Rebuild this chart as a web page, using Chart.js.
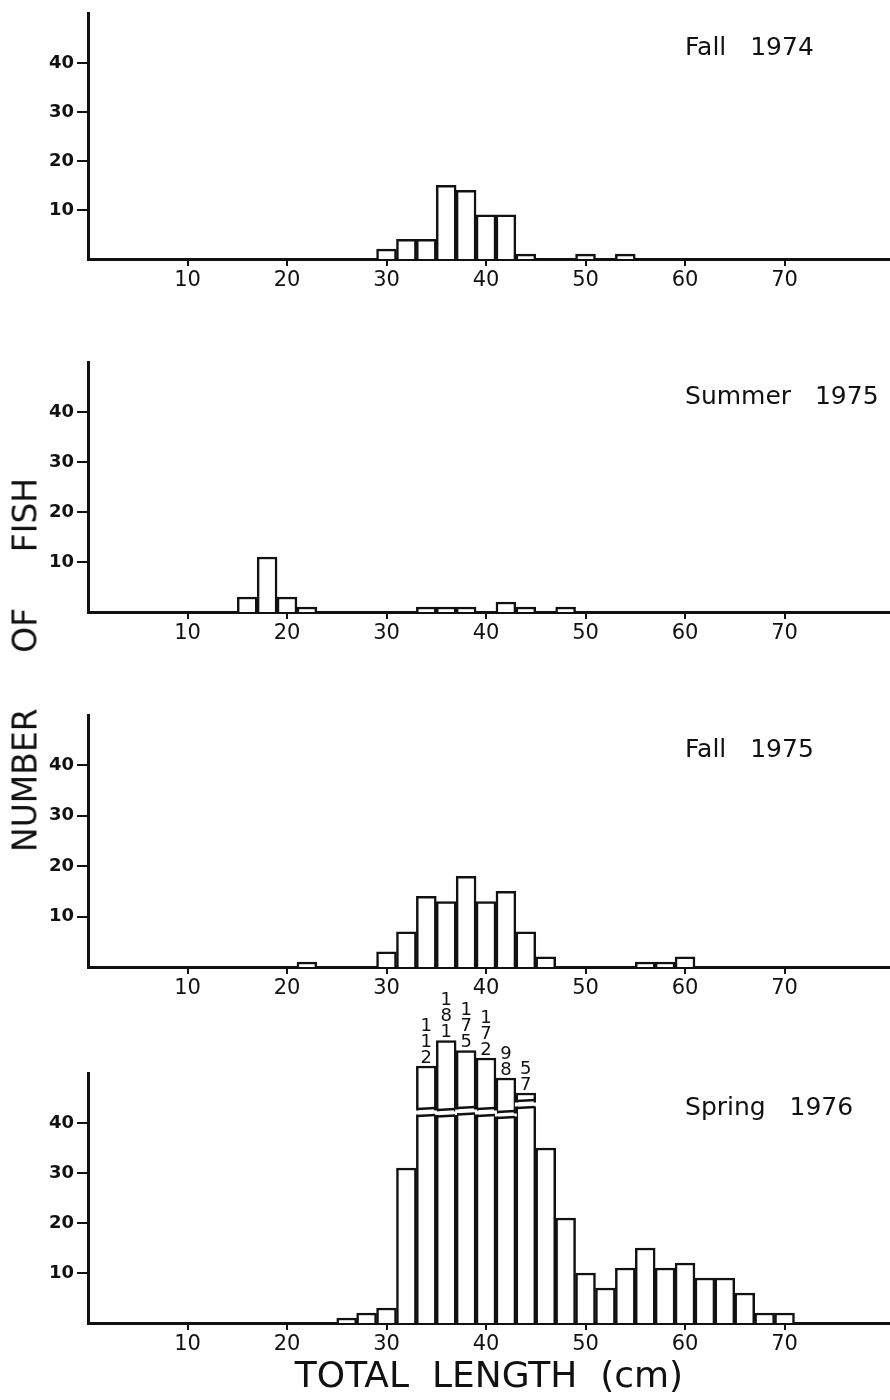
<!DOCTYPE html>
<html>
<head>
<meta charset="utf-8">
<script src="https://cdn.jsdelivr.net/npm/chart.js@4.4.0/dist/chart.umd.min.js"></script>
<style>
body { margin: 0; background: #fff; }
#page { position: relative; width: 890px; height: 1400px; overflow: hidden; background: #fff; }
canvas { position: absolute; left: 0; }
#ylab { position: absolute; left: 25px; top: 665px; transform: translate(-50%, -50%) rotate(-90deg);
        font: 33px "DejaVu Sans"; word-spacing: 45px; white-space: nowrap; color: #111; }
</style>
</head>
<body>
<div id="page">
  <canvas id="c1" width="890" height="300" style="top:0px"></canvas>
  <canvas id="c2" width="890" height="320" style="top:330px"></canvas>
  <canvas id="c3" width="890" height="330" style="top:680px"></canvas>
  <canvas id="c4" width="890" height="415" style="top:985px"></canvas>
  <div id="ylab">NUMBER OF FISH</div>
</div>
<script>
// total length classes (centre of each 2 cm class) and number of fish
var fall74Len = [30, 32, 34, 36, 38, 40, 42, 44, 50, 54];
var fall74Num = [2, 4, 4, 15, 14, 9, 9, 1, 1, 1];

var summer75Len = [16, 18, 20, 22, 34, 36, 38, 42, 44, 48];
var summer75Num = [3, 11, 3, 1, 1, 1, 1, 2, 1, 1];

var fall75Len = [22, 30, 32, 34, 36, 38, 40, 42, 44, 46, 56, 58, 60];
var fall75Num = [1, 3, 7, 14, 13, 18, 13, 15, 7, 2, 1, 1, 2];

var spring76Len = [26, 28, 30, 32, 34, 36, 38, 40, 42, 44, 46, 48, 50, 52, 54, 56, 58, 60, 62, 64, 66, 68, 70];
var spring76Num = [1, 2, 3, 31, 112, 181, 175, 172, 98, 57, 35, 21, 10, 7, 11, 15, 11, 12, 9, 9, 6, 2, 2];

// bars that run off the scale: drawn height and where the break marks sit
var brokenLen = [34, 36, 38, 40, 42, 44];
var brokenTop = [51.4, 56.5, 54.5, 53, 49, 46];
var brokenHi = [42.8, 42.6, 43, 42.8, 42.2, 44.4];
var brokenLo = [41.4, 41.3, 41.7, 41.4, 41, 43];

var xTicks = [10, 20, 30, 40, 50, 60, 70];
var yTicks = [10, 20, 30, 40];

var ink = '#111';

var panelTitle = {
	id: 'panelTitle',
	afterDraw: function(chart){
		var t = chart.options.plugins.panelTitle.text;
		var ctx = chart.ctx;
		ctx.save();
		ctx.fillStyle = ink;
		ctx.font = '25px "DejaVu Sans"';
		ctx.textAlign = 'left';
		ctx.textBaseline = 'middle';
		ctx.fillText(t, chart.scales.x.getPixelForValue(60), chart.scales.y.getPixelForValue(43));
		ctx.restore();
	}
};

var brokenBars = {
	id: 'brokenBars',
	afterDatasetsDraw: function(chart){
		if(!chart.options.plugins.brokenBars.show) return;
		var ctx = chart.ctx;
		var x = chart.scales.x, y = chart.scales.y;
		ctx.save();
		ctx.strokeStyle = ink;
		ctx.lineWidth = 2.5;
		ctx.font = '18px "DejaVu Sans"';
		ctx.textAlign = 'center';
		ctx.textBaseline = 'middle';
		for(var i = 0; i < brokenLen.length; i++){
			var l = x.getPixelForValue(brokenLen[i] - 1) + 1;
			var r = x.getPixelForValue(brokenLen[i] + 1) - 1;
			var hi = y.getPixelForValue(brokenHi[i]);
			var lo = y.getPixelForValue(brokenLo[i]);
			ctx.fillStyle = '#fff';
			ctx.fillRect(l - 2, hi + 1.5, r - l + 4, lo - hi - 3);
			ctx.beginPath();
			ctx.moveTo(l, hi); ctx.lineTo(r, hi - 1);
			ctx.moveTo(l, lo); ctx.lineTo(r, lo - 1);
			ctx.stroke();
			// count written downwards above the bar
			var n = spring76Num[spring76Len.indexOf(brokenLen[i])];
			var digits = String(n).split('');
			var top = y.getPixelForValue(brokenTop[i]);
			var xc = x.getPixelForValue(brokenLen[i]);
			ctx.fillStyle = ink;
			for(var k = 0; k < digits.length; k++){
				ctx.fillText(digits[k], xc, top - 8 - (digits.length - 1 - k) * 16);
			}
		}
		ctx.restore();
	}
};

function makePanel(id, title, lens, nums, padTop, xHeight, last){
	var points = lens.map(function(l, i){
		var b = last ? brokenLen.indexOf(l) : -1;
		return {x: l, y: b >= 0 ? brokenTop[b] : nums[i]};
	});

	var xScale = {
		type: 'linear',
		min: 0,
		max: 80.6,
		offset: false,
		grid: { drawOnChartArea: false, tickLength: 7, color: ink, lineWidth: 2, offset: false },
		border: { display: true, color: ink, width: 3 },
		ticks: { color: ink, font: { family: 'DejaVu Sans', size: 21 }, padding: 2, maxRotation: 0, autoSkip: false },
		afterBuildTicks: function(s){ s.ticks = xTicks.map(function(v){ return {value: v}; }); },
		afterFit: function(s){ s.height = xHeight; }
	};
	if(last){
		xScale.title = {
			display: true,
			text: 'TOTAL  LENGTH  (cm)',
			color: ink,
			font: { family: 'DejaVu Sans', size: 36 },
			padding: { top: 0, bottom: 1 }
		};
	}

	return new Chart(document.getElementById(id), {
		type: 'bar',
		data: {
			datasets: [{
				data: points,
				backgroundColor: '#fff',
				borderColor: ink,
				borderWidth: 2.5,
				barPercentage: 1,
				categoryPercentage: 1,
				clip: false
			}]
		},
		options: {
			responsive: false,
			animation: false,
			layout: { padding: { top: padTop, left: 0, right: 0, bottom: 0 } },
			plugins: {
				legend: { display: false },
				tooltip: { enabled: false },
				panelTitle: { text: title },
				brokenBars: { show: !!last }
			},
			scales: {
				x: xScale,
				y: {
					type: 'linear',
					min: 0,
					max: 50,
					grid: { drawOnChartArea: false, tickLength: 11, color: ink, lineWidth: 2 },
					border: { display: true, color: ink, width: 3 },
					ticks: { color: ink, font: { family: 'DejaVu Sans', size: 18, weight: 'bold' }, padding: 3 },
					afterBuildTicks: function(s){ s.ticks = yTicks.map(function(v){ return {value: v}; }); },
					afterFit: function(s){ s.width = 88; }
				}
			}
		},
		plugins: [panelTitle, brokenBars]
	});
}

makePanel('c1', 'Fall   1974', fall74Len, fall74Num, 7, 41, false);
makePanel('c2', 'Summer   1975', summer75Len, summer75Num, 32, 38, false);
makePanel('c3', 'Fall   1975', fall75Len, fall75Num, 35, 43, false);
makePanel('c4', 'Spring   1976', spring76Len, spring76Num, 88, 77, true);
</script>
</body>
</html>
